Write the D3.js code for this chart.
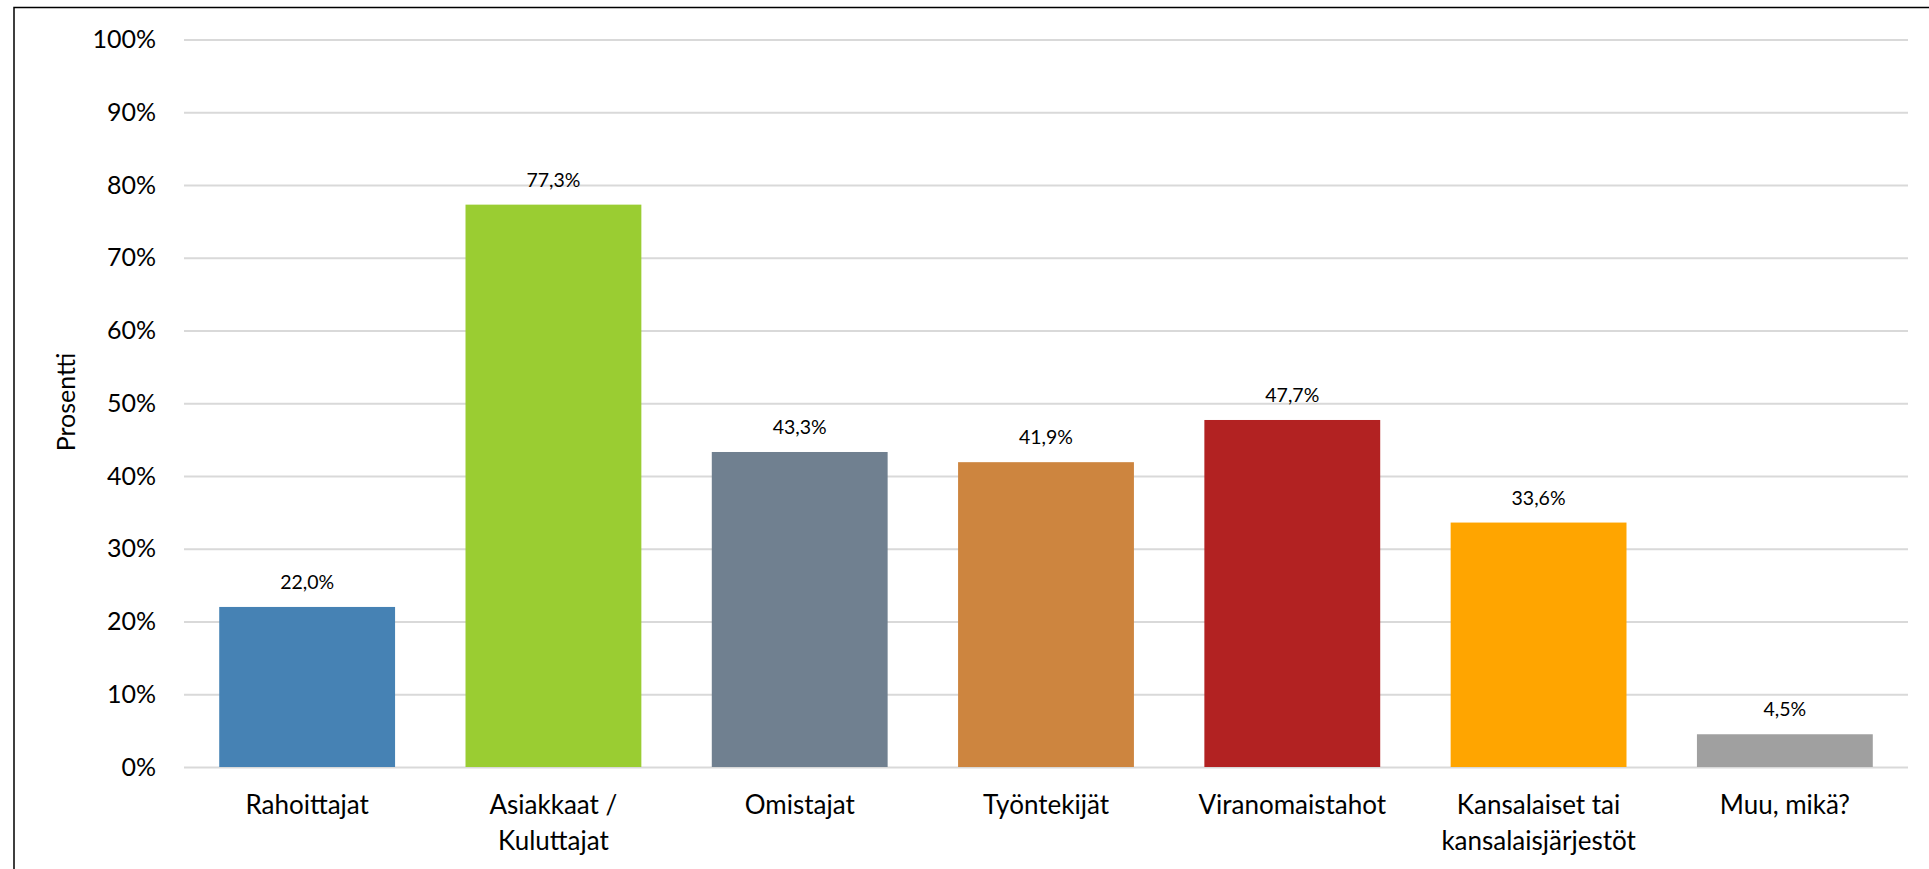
<!DOCTYPE html>
<html>
<head>
<meta charset="utf-8">
<script src="https://cdn.jsdelivr.net/npm/d3@7"></script>
<style>
  body { margin: 0; background: #fff; }
  text { font-family: Lato, "Open Sans", sans-serif; fill: #000; }
</style>
</head>
<body>
<div id="svg"></div>
<script>
// chart data
var categories = ["Rahoittajat", "Asiakkaat / Kuluttajat", "Omistajat", "Työntekijät",
                  "Viranomaistahot", "Kansalaiset tai kansalaisjärjestöt", "Muu, mikä?"];
// label lines for the x axis
var categoryLines = [["Rahoittajat"], ["Asiakkaat /", "Kuluttajat"], ["Omistajat"], ["Työntekijät"],
                     ["Viranomaistahot"], ["Kansalaiset tai", "kansalaisjärjestöt"], ["Muu, mikä?"]];
var values = [22.0, 77.3, 43.3, 41.9, 47.7, 33.6, 4.5];
var barColors = ["#4682B4", "#9ACD32", "#708090", "#CD853F", "#B22222", "#FFA500", "#A0A0A0"];
var yTicks = [0, 10, 20, 30, 40, 50, 60, 70, 80, 90, 100];
var yTitle = "Prosentti";

var svgWidth = 1929;
var svgHeight = 869;
var margin = {top: 39.5, right: 21, bottom: 102, left: 184};
var chartWidth = svgWidth - margin.left - margin.right;
var chartHeight = svgHeight - margin.top - margin.bottom;

var $svg = d3.select("#svg")
    .append("svg")
    .attr("width", svgWidth)
    .attr("height", svgHeight);

// outer chart border (runs off the right / bottom edge like the original)
$svg.append("rect")
    .attr("x", 14)
    .attr("y", 7.5)
    .attr("width", svgWidth + 10)
    .attr("height", svgHeight + 10)
    .attr("fill", "none")
    .attr("stroke", "#000")
    .attr("stroke-width", 1.5);

var chartGroup = $svg.append("g")
    .attr("transform", `translate(${margin.left},${margin.top})`);

var xScale = d3.scaleBand()
    .domain(categories)
    .range([0, chartWidth])
    .paddingInner(0.286)
    .paddingOuter(0.143);

var yScale = d3.scaleLinear()
    .domain([0, 100])
    .range([chartHeight, 0]);

// gridlines + y labels
var leftAxis = d3.axisLeft(yScale)
    .tickValues(yTicks)
    .tickSize(-chartWidth)
    .tickPadding(28)
    .tickFormat(d => d + "%");

var yAxis = chartGroup.append("g")
    .attr("class", "y-axis")
    .call(leftAxis);
yAxis.select(".domain").remove();
yAxis.selectAll("line")
    .attr("stroke", "#d9d9d9")
    .attr("stroke-width", 2);
yAxis.selectAll("text")
    .attr("font-size", "25px")
    .attr("font-family", "Lato, sans-serif")
    .attr("fill", "#000");

// bars
chartGroup.selectAll(".bar")
    .data(values)
    .enter()
    .append("rect")
    .attr("class", "bar")
    .attr("x", (d, i) => xScale(categories[i]))
    .attr("y", d => yScale(d))
    .attr("width", xScale.bandwidth())
    .attr("height", d => chartHeight - yScale(d))
    .attr("fill", (d, i) => barColors[i]);

// value labels
chartGroup.selectAll(".val")
    .data(values)
    .enter()
    .append("text")
    .attr("class", "val")
    .attr("x", (d, i) => xScale(categories[i]) + xScale.bandwidth() / 2)
    .attr("y", d => yScale(d) - 18)
    .attr("text-anchor", "middle")
    .attr("font-size", "19.5px")
    .text(d => d.toFixed(1).replace(".", ",") + "%");

// x labels
var xLabels = chartGroup.selectAll(".xlab")
    .data(categoryLines)
    .enter()
    .append("text")
    .attr("class", "xlab")
    .attr("text-anchor", "middle")
    .attr("font-size", "26px")
    .attr("transform", (d, i) => `translate(${xScale(categories[i]) + xScale.bandwidth() / 2},${chartHeight + 47})`);
xLabels.selectAll("tspan")
    .data(d => d)
    .enter()
    .append("tspan")
    .attr("x", 0)
    .attr("dy", (d, i) => i === 0 ? 0 : 36)
    .text(d => d);

// y axis title
chartGroup.append("text")
    .attr("text-anchor", "middle")
    .attr("transform", `translate(${75 - margin.left},${402 - margin.top})rotate(-90)`)
    .attr("font-size", "25px")
    .text(yTitle);
</script>
</body>
</html>
